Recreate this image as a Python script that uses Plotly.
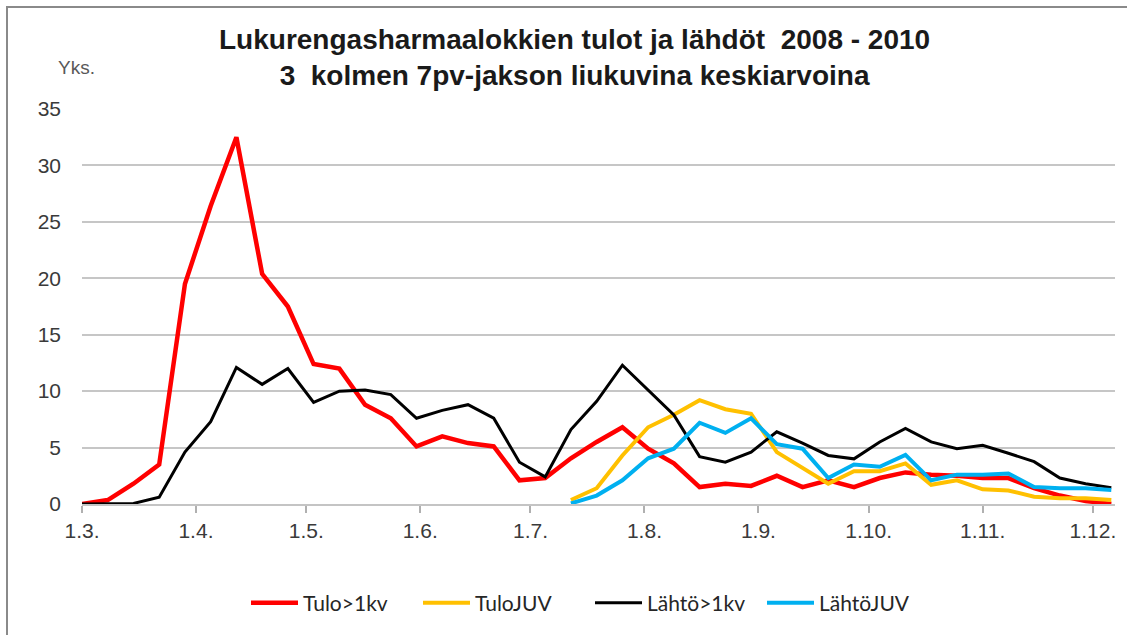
import pandas as pd
import plotly.graph_objects as go

# ---- data ----
start_date = "2010-03-01"
n_weeks = 41
juv_start_index = 19

tulo_1kv = [0, 0.35, 1.8, 3.5, 19.5, 26.4, 32.5, 20.4, 17.5, 12.4, 12.0, 8.8, 7.6, 5.1,
            6.0, 5.4, 5.1, 2.1, 2.3, 4.05, 5.5, 6.8, 4.9, 3.6, 1.5, 1.8, 1.6, 2.5, 1.5,
            2.1, 1.5, 2.3, 2.8, 2.6, 2.5, 2.3, 2.3, 1.4, 0.75, 0.27, 0.0]
lahto_1kv = [0, 0, 0.05, 0.6, 4.6, 7.3, 12.1, 10.6, 12.0, 9.0, 10.0, 10.1, 9.7, 7.6,
             8.3, 8.8, 7.6, 3.7, 2.4, 6.6, 9.1, 12.3, 10.1, 7.9, 4.2, 3.7, 4.6, 6.4, 5.4,
             4.3, 4.0, 5.5, 6.7, 5.5, 4.9, 5.2, 4.5, 3.75, 2.3, 1.8, 1.45]
tulo_juv = [0.35, 1.4, 4.3, 6.8, 7.9, 9.2, 8.4, 8.0, 4.6, 3.2, 1.8, 2.9, 2.9, 3.6,
            1.7, 2.1, 1.3, 1.2, 0.65, 0.5, 0.5, 0.35]
lahto_juv = [0.05, 0.75, 2.1, 4.05, 4.9, 7.2, 6.3, 7.6, 5.3, 4.9, 2.3, 3.5, 3.3, 4.35,
             2.1, 2.6, 2.6, 2.7, 1.5, 1.4, 1.4, 1.25]

series_names = ["Tulo>1kv", "TuloJUV", "Lähtö>1kv", "LähtöJUV"]
series_colors = ["#FF0000", "#FFC000", "#000000", "#00B0F0"]
series_widths = [4.5, 4, 3, 4]

tick_dates = ["2010-03-01", "2010-04-01", "2010-05-01", "2010-06-01", "2010-07-01",
              "2010-08-01", "2010-09-01", "2010-10-01", "2010-11-01", "2010-12-01"]
tick_labels = ["1.3.", "1.4.", "1.5.", "1.6.", "1.7.", "1.8.", "1.9.", "1.10.", "1.11.", "1.12."]
y_ticks = [0, 5, 10, 15, 20, 25, 30, 35]

title_text = ("Lukurengasharmaalokkien tulot ja lähdöt  2008 - 2010<br>"
              "3  kolmen 7pv-jakson liukuvina keskiarvoina")
y_unit = "Yks."

# ---- build ----
dates = pd.date_range(start_date, periods=n_weeks, freq="7D")
juv_dates = dates[juv_start_index:]

xs = [dates, juv_dates, dates, juv_dates]
ys = [tulo_1kv, tulo_juv, lahto_1kv, lahto_juv]

fig = go.Figure()
for name, x, y, c, w in zip(series_names, xs, ys, series_colors, series_widths):
    fig.add_trace(go.Scatter(x=x, y=y, mode="lines", name=name,
                             line=dict(color=c, width=w)))

W, H = 1127, 635
L, R, T, B = 82, 12, 109, 131
pw, ph = W - L - R, H - T - B

def px_x(p):
    return (p - L) / pw

def px_y(p):
    return (H - B - p) / ph

fig.update_layout(
    width=W, height=H,
    margin=dict(l=L, r=R, t=T, b=B),
    paper_bgcolor="white", plot_bgcolor="white",
    font=dict(family="Liberation Sans, Arial, sans-serif", color="#404040"),
    showlegend=True,
    legend=dict(orientation="h", x=px_x(246), xanchor="left", y=px_y(603), yanchor="middle",
                font=dict(size=21, color="#262626", family="Lato, Liberation Sans, sans-serif"),
                itemwidth=47, entrywidth=110, entrywidthmode="pixels",
                traceorder="normal", bgcolor="rgba(0,0,0,0)"),
)

fig.update_xaxes(
    type="date", range=["2010-03-01", "2010-12-07"],
    tickmode="array", tickvals=tick_dates, ticktext=tick_labels,
    showgrid=False, ticks="outside", ticklen=7, tickcolor="#b0b0b0", tickwidth=1.5,
    showline=True, linecolor="#c4c4c4", linewidth=1.5,
    tickfont=dict(size=21, color="#3a3a3a"), zeroline=False,
)
fig.update_yaxes(
    range=[0, 35], tickmode="array", tickvals=y_ticks,
    showgrid=True, gridcolor="#c6c6c6", gridwidth=1.8,
    zeroline=False, showline=False, ticks="",
    tickfont=dict(size=21, color="#3a3a3a"), ticklabelstandoff=20,
)

fig.add_annotation(text=title_text, xref="paper", yref="paper", x=px_x(574), y=px_y(58),
                   xanchor="center", yanchor="middle", showarrow=False, align="center",
                   font=dict(size=28, color="#1a1a1a", family="Liberation Sans, Arial, sans-serif",
                             weight="bold"))

fig.add_annotation(text=y_unit, xref="paper", yref="paper", x=px_x(76), y=px_y(67),
                   xanchor="center", yanchor="middle", showarrow=False,
                   font=dict(size=19, color="#595959"))

# chart border (only top and left visible in the crop)
fig.add_shape(type="rect", xref="paper", yref="paper",
              x0=px_x(7), x1=px_x(W + 20), y0=px_y(7), y1=px_y(H + 20),
              line=dict(color="#8a8a8a", width=2), fillcolor="rgba(0,0,0,0)", layer="below")

fig.write_html("out.html", config={"displayModeBar": False},
               post_script="document.body.style.margin='0';")
